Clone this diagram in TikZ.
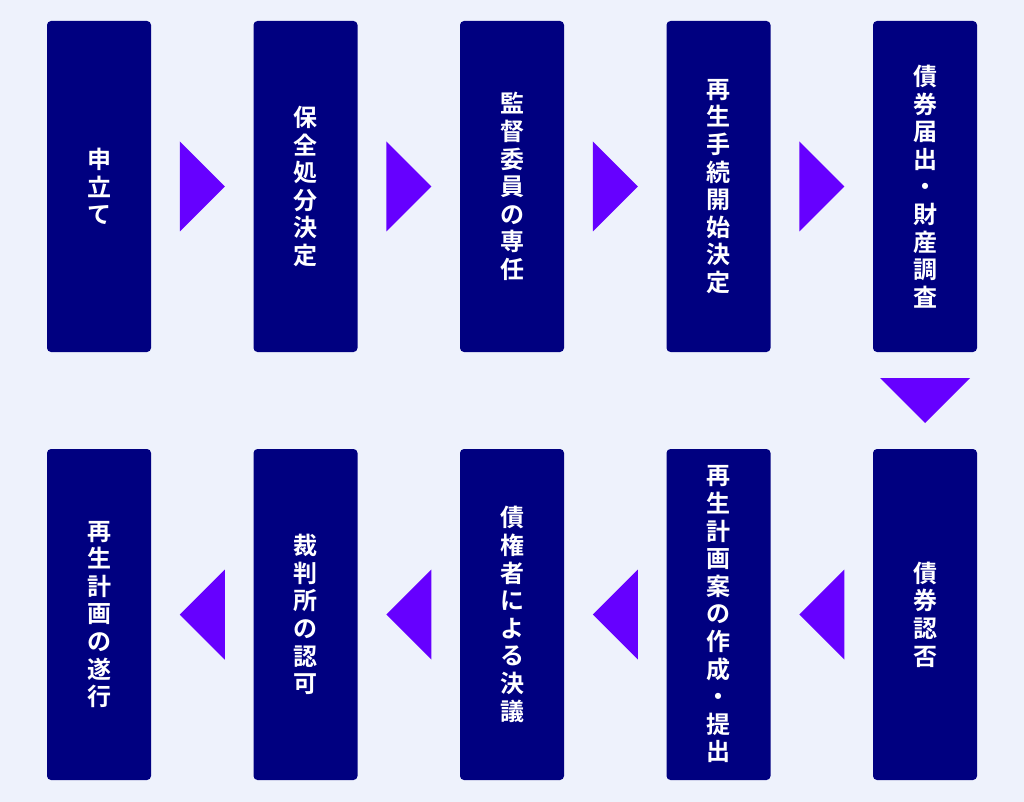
\documentclass[tikz,border=0pt]{standalone}
\usepackage{fontspec}
\newfontfamily\jpfont{Noto Sans CJK JP}[BoldFont={Noto Sans CJK JP Bold}]
\usepackage{tikz}
\usetikzlibrary{calc}
\definecolor{bgclr}{HTML}{EEF2FC}
\definecolor{boxclr}{HTML}{000080}
\definecolor{arrclr}{HTML}{6600FF}
\newcommand{\tri}{22.5}

\begin{document}
\begin{tikzpicture}[x=1pt, y=-1pt,
    stepbox/.style={fill=boxclr, rounded corners=4pt, minimum width=104pt, minimum height=331pt,
        inner sep=0pt, text=white, align=center,
        font=\jpfont\bfseries\fontsize{24pt}{27.6pt}\selectfont}]
    \fill[bgclr] (0,0) rectangle (1024,802);
    \useasboundingbox (0,0) rectangle (1024,802);

    \node[stepbox] (step1) at (99,186.5) {申\\立\\て};
    \node[stepbox] (step2) at (305.5,186.5) {保\\全\\処\\分\\決\\定};
    \node[stepbox] (step3) at (512,186.5) {監\\督\\委\\員\\の\\専\\任};
    \node[stepbox] (step4) at (718.5,186.5) {再\\生\\手\\続\\開\\始\\決\\定};
    \node[stepbox] (step5) at (925,186.5) {債\\券\\届\\出\\・\\財\\産\\調\\査};

    \node[stepbox] (step6) at (925,614.5) {債\\券\\認\\否};
    \node[stepbox] (step7) at (718.5,614.5) {再\\生\\計\\画\\案\\の\\作\\成\\・\\提\\出};
    \node[stepbox] (step8) at (512,614.5) {債\\権\\者\\に\\よ\\る\\決\\議};
    \node[stepbox] (step9) at (305.5,614.5) {裁\\判\\所\\の\\認\\可};
    \node[stepbox] (step10) at (99,614.5) {再\\生\\計\\画\\の\\遂\\行};

    \foreach \i [evaluate=\i as \j using int(\i+1)] in {1,...,4} {
        \coordinate (m\i) at ($(step\i.east)!.5!(step\j.west)$);
        \fill[arrclr] ($(m\i)+(-\tri,-45)$) -- ($(m\i)+(\tri,0)$) -- ($(m\i)+(-\tri,45)$) -- cycle;
    }
    \foreach \i [evaluate=\i as \j using int(\i+1)] in {6,...,9} {
        \coordinate (m\i) at ($(step\i.west)!.5!(step\j.east)$);
        \fill[arrclr] ($(m\i)+(\tri,-45)$) -- ($(m\i)+(-\tri,0)$) -- ($(m\i)+(\tri,45)$) -- cycle;
    }
    \coordinate (m5) at ($(step5.south)!.5!(step6.north)$);
    \fill[arrclr] ($(m5)+(-45,-\tri)$) -- ($(m5)+(45,-\tri)$) -- ($(m5)+(0,\tri)$) -- cycle;

\end{tikzpicture}
\end{document}
